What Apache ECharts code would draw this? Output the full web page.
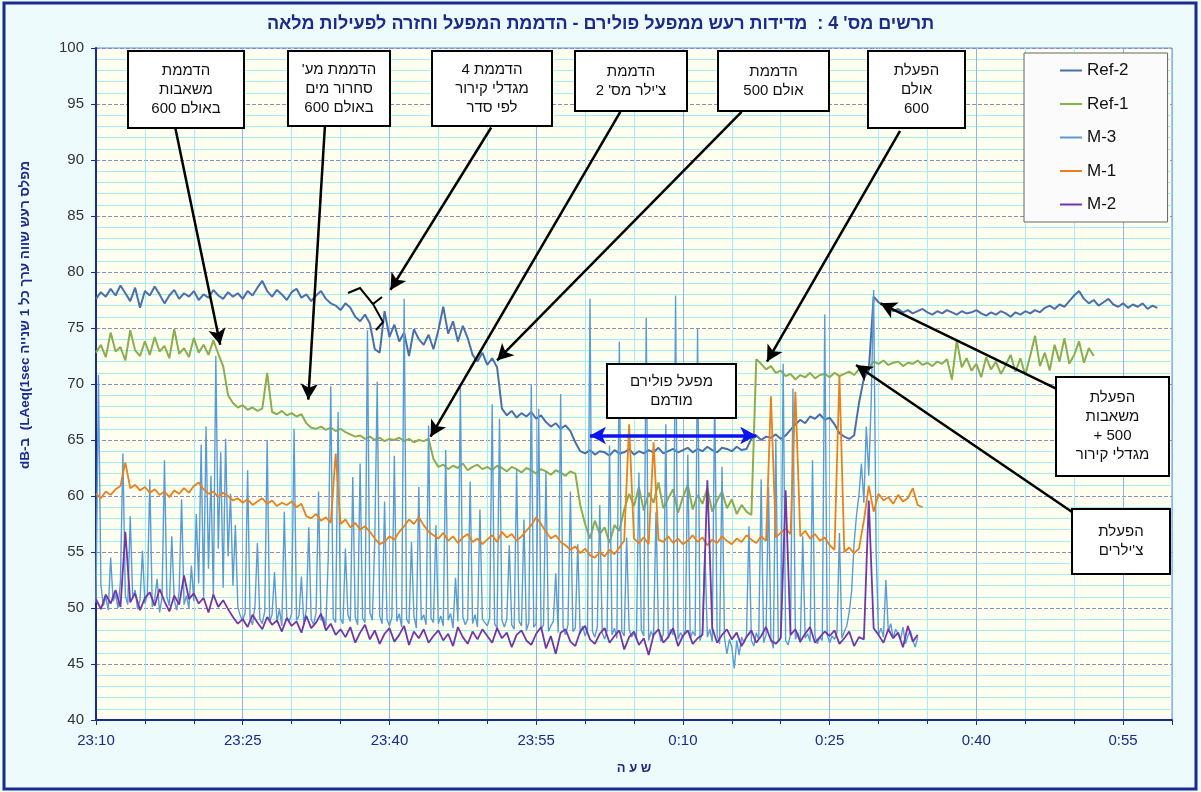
<!DOCTYPE html>
<html>
<head>
<meta charset="utf-8">
<script src="https://cdn.jsdelivr.net/npm/echarts/dist/echarts.min.js"></script>
<style>
  html, body { margin: 0; padding: 0; background: #eefbfc; }
  #chart { width: 1201px; height: 792px; }
</style>
</head>
<body>
<div id="chart"></div>
<script>
// minutes from 23:10, one value every half minute (M-3 every quarter minute)
const ref2 = [
  77.6,78.2,77.8,78.5,77.9,78.8,78.1,77.4,78.6,76.8,
  78.3,77.9,78.7,78.0,77.2,77.9,78.4,77.6,78.1,77.8,
  78.3,77.5,78.0,77.7,78.4,77.9,77.6,78.2,77.8,78.1,
  77.6,78.3,77.9,78.6,79.2,78.3,77.8,78.4,78.0,77.5,
  78.2,78.5,77.7,78.0,77.4,77.9,78.3,77.6,77.2,77.0,
  76.6,77.2,76.8,76.0,75.6,76.2,75.4,73.1,72.8,76.5,
  74.2,75.3,73.8,74.6,72.5,74.9,74.0,73.5,74.4,73.1,
  74.8,76.9,74.5,75.6,73.8,75.2,74.1,72.6,72.0,72.8,
  71.7,72.3,71.5,67.8,67.2,67.6,67.0,67.4,67.1,67.5,
  66.9,67.2,66.6,66.2,66.5,66.0,66.3,65.8,64.8,64.0,
  63.8,64.1,63.7,64.0,63.9,63.6,64.1,63.8,63.9,64.2,
  63.7,64.0,63.8,64.1,63.9,64.3,63.8,64.0,64.2,63.9,
  64.1,64.3,63.9,64.2,64.0,64.4,64.1,63.9,64.3,64.2,
  64.0,64.4,64.1,64.2,65.1,65.4,65.0,65.3,65.2,65.5,
  65.1,65.4,65.9,66.4,66.8,66.5,67.1,66.9,67.3,66.8,
  67.0,66.4,65.6,65.3,65.1,65.4,68.3,70.5,71.2,77.8,
  77.3,77.0,76.8,76.5,76.7,76.4,76.6,76.3,76.5,76.7,
  76.4,76.2,76.5,76.3,76.6,76.4,76.2,76.5,76.3,76.4,
  76.6,76.3,76.1,76.4,76.2,76.5,76.3,76.0,76.4,76.2,
  76.5,76.3,76.6,76.4,76.8,77.0,76.7,77.1,76.9,77.4,
  77.9,78.3,77.6,77.2,77.5,77.0,77.3,77.6,77.1,76.9,
  77.2,76.8,77.1,76.9,77.2,76.7,77.0,76.8
]
const ref1 = [
  72.8,73.5,72.4,74.6,72.9,73.3,72.1,74.8,73.0,72.5,
  73.8,72.6,74.2,72.9,73.4,72.3,74.9,72.7,73.2,72.4,
  74.1,72.8,73.5,72.6,73.9,72.7,71.6,69.0,68.3,67.9,
  68.1,67.7,67.9,67.6,67.8,71.0,67.5,67.3,67.6,67.2,
  67.4,67.1,67.3,66.5,66.1,66.0,66.2,65.9,66.1,65.8,
  66.0,65.7,65.5,65.3,65.4,65.1,65.3,65.0,65.2,64.9,
  65.1,65.0,65.2,64.9,65.1,64.8,65.0,64.9,65.1,63.3,
  62.6,62.8,62.4,62.7,62.5,62.9,62.3,62.6,62.8,62.4,
  62.6,62.3,62.7,62.5,62.2,62.6,62.4,62.1,62.5,62.3,
  62.0,62.4,62.2,61.9,62.3,62.1,61.8,62.2,62.0,59.2,
  57.5,56.2,57.8,56.6,57.2,55.8,57.4,56.9,58.8,60.2,
  59.1,60.8,58.7,60.3,59.4,61.2,58.9,59.8,60.6,58.5,
  59.9,61.0,58.8,60.1,59.3,60.7,58.6,59.6,60.4,58.9,
  59.7,58.4,59.2,58.6,58.3,72.2,71.8,71.3,71.6,71.0,
  71.2,70.7,70.9,70.4,70.8,70.6,71.0,70.5,70.8,70.9,
  70.6,71.0,70.7,70.9,71.1,70.8,71.3,71.0,71.5,72.0,
  71.8,72.1,71.7,71.9,72.0,71.6,71.9,71.8,72.1,71.7,
  71.9,71.6,72.0,71.8,72.2,70.4,73.9,71.5,72.3,71.2,
  71.8,70.6,72.4,71.3,72.0,70.9,71.7,72.6,71.1,72.3,
  70.8,72.5,74.3,71.6,72.8,71.2,73.5,72.0,74.1,71.8,
  72.6,73.8,71.9,73.2,72.5
]
const m3 = [
  50.5,70.8,52.1,50.2,51.0,49.8,54.5,50.6,51.2,50.0,52.4,63.8,51.1,50.3,58.2,50.9,51.6,49.9,50.7,55.1,
  50.4,51.2,61.5,50.1,50.8,52.6,49.6,50.9,63.2,51.0,50.2,56.4,50.7,49.8,51.5,59.7,50.3,51.1,50.0,53.8,
  50.6,58.4,52.2,64.6,51.0,66.2,53.5,61.8,50.9,72.5,55.3,63.9,51.8,65.1,54.6,60.2,52.0,57.4,50.1,49.3,
  48.9,49.6,62.3,49.1,48.5,50.2,55.8,49.0,48.6,49.7,64.9,48.8,49.4,53.2,48.7,49.9,48.4,58.6,49.2,48.8,
  49.5,66.0,48.9,49.3,52.8,48.6,49.8,57.2,49.0,48.5,49.6,60.4,48.9,49.2,48.4,54.7,69.8,49.1,48.7,67.5,
  49.0,48.6,55.3,49.4,48.8,61.7,49.2,48.5,62.9,49.1,48.7,74.8,49.6,48.9,56.1,70.2,49.3,48.6,59.5,49.0,
  48.4,49.2,63.6,48.8,49.5,48.3,77.6,49.0,48.6,55.9,49.3,48.2,60.8,48.9,49.4,48.5,66.3,49.1,48.7,57.4,
  48.6,49.3,48.4,64.1,48.9,49.5,48.2,52.7,48.8,69.7,49.2,48.5,49.0,61.3,48.6,49.4,48.3,58.8,49.0,48.7,
  48.4,49.1,68.2,48.6,48.2,66.9,48.9,48.3,49.0,55.6,48.5,48.1,62.4,48.8,48.4,57.9,48.0,48.7,69.9,48.3,
  48.6,67.8,48.1,48.5,62.2,47.9,48.4,48.8,53.1,47.8,69.1,48.3,47.6,48.5,60.4,47.9,48.2,55.7,47.7,48.4,
  47.5,48.1,77.6,47.9,47.4,48.3,59.2,47.8,47.2,48.0,64.5,47.6,48.2,47.3,73.8,47.9,47.5,56.3,48.1,47.4,
  47.8,47.2,62.1,48.0,47.5,75.9,47.1,47.9,47.4,58.6,48.2,47.0,47.7,66.4,47.3,48.1,47.6,77.9,47.2,47.8,
  47.4,48.0,63.7,47.3,47.9,47.5,74.9,47.1,47.8,55.2,47.4,48.1,47.0,69.6,47.6,46.8,62.6,47.3,45.9,47.2,
  46.5,44.6,47.1,45.8,47.4,46.9,47.5,57.3,47.1,46.6,47.8,47.2,61.5,46.9,47.6,60.8,47.3,46.4,65.1,47.0,
  47.4,71.8,47.1,46.7,47.6,69.6,47.2,47.8,46.9,56.4,47.3,47.7,47.0,63.2,47.5,46.8,47.4,47.1,76.2,47.6,
  46.9,47.5,47.2,47.8,56.7,47.3,47.9,48.4,49.6,51.5,55.8,58.3,60.1,62.9,59.4,66.2,61.8,68.5,78.4,55.2,
  47.6,48.2,47.4,52.5,47.9,48.6,47.3,48.1,47.7,47.2,48.3,46.8,47.5,48.0,47.1,46.5,47.4
]
const m1 = [
  60.2,59.8,60.4,60.1,60.6,60.9,63.0,60.7,61.0,60.5,
  60.8,60.3,60.6,60.1,60.4,59.9,60.5,60.2,60.7,60.3,
  60.9,61.2,60.6,60.2,60.4,59.9,60.3,60.0,59.6,59.8,
  59.4,59.7,59.2,59.5,59.8,59.3,59.6,59.1,59.4,59.2,
  59.5,59.0,59.3,58.2,58.0,58.4,57.8,58.1,57.6,63.8,
  57.5,57.9,57.2,57.6,57.0,57.3,56.8,56.2,55.7,55.9,
  56.4,56.1,56.8,57.3,57.9,57.5,58.1,57.4,56.8,56.5,
  56.2,56.7,56.0,56.4,55.8,56.3,56.6,55.9,56.2,55.7,
  56.1,56.5,55.9,56.8,56.3,56.6,56.0,56.4,56.9,57.4,
  58.1,57.5,56.8,56.2,56.5,55.9,55.6,55.2,55.5,54.9,
  55.3,54.7,54.5,55.0,54.6,55.2,54.8,55.4,56.0,66.4,
  56.2,55.8,56.3,55.7,64.8,56.1,55.9,56.4,55.8,56.2,
  55.7,56.0,56.5,55.9,56.3,55.6,56.1,55.8,56.4,56.0,
  55.7,56.2,55.9,56.5,56.1,55.8,56.4,56.0,68.9,56.3,
  56.7,57.1,56.6,69.3,56.4,56.9,56.2,56.6,56.0,56.3,
  55.6,55.2,70.8,55.0,55.4,54.9,55.3,57.8,60.9,58.6,
  60.2,59.6,59.9,59.3,60.1,59.5,59.8,60.7,59.2,59.0
]
const m2 = [
  50.8,49.9,51.2,50.4,51.6,50.1,56.8,50.5,51.3,49.8,
  50.9,51.4,50.2,51.7,50.6,49.7,51.1,50.3,52.9,50.8,
  51.3,50.4,50.9,49.6,51.2,50.1,50.7,49.9,49.2,48.6,
  49.0,48.3,49.4,48.7,48.1,49.2,48.5,48.9,47.9,49.1,
  48.4,48.8,47.8,49.3,48.2,48.7,49.5,48.0,48.6,47.6,
  48.1,47.4,48.3,46.9,47.8,48.5,47.2,48.0,46.8,47.7,
  48.2,47.0,47.6,48.4,46.7,47.9,47.3,48.1,46.9,47.5,
  48.0,47.1,47.7,46.6,48.3,47.4,46.8,47.9,47.2,48.1,
  47.5,46.9,48.2,47.3,47.8,46.5,47.6,48.0,47.1,46.7,
  47.7,48.3,46.4,47.5,45.9,47.8,48.1,47.0,46.6,47.9,
  48.4,47.2,46.8,47.7,48.2,46.9,47.5,48.0,46.3,47.4,
  47.9,46.7,47.3,45.8,47.6,48.1,46.9,47.4,48.2,46.6,
  47.5,48.0,46.8,47.3,47.6,61.4,48.2,46.9,47.6,48.1,
  47.2,47.8,46.6,47.4,48.0,46.9,47.5,48.3,47.1,46.8,
  47.3,60.5,47.6,48.1,47.0,47.7,48.3,46.9,47.4,47.9,
  47.5,48.0,46.8,47.3,47.9,46.6,47.4,47.2,59.6,48.2,
  47.6,46.9,48.1,47.3,47.8,46.5,48.4,47.0,47.6
]
const seriesNames = ['Ref-2', 'Ref-1', 'M-3', 'M-1', 'M-2']
const seriesColors = ['#4a6fae', '#8bad4f', '#5b9bd5', '#e8801f', '#7435a8']
const lineWidths = [2, 2, 1.4, 1.8, 1.8]
const yTicks = { min: 40, max: 100, step: 5 }

// callout arrows in chart units [minutes, dB]
const arrows = [
  [[8.1, 92.9], [12.7, 73.5]],
  [[23.4, 93.0], [21.7, 68.6]],
  [[40.4, 92.9], [30.1, 78.4]],
  [[53.6, 94.3], [34.2, 65.3]],
  [[66.0, 94.3], [41.0, 72.1]],
  [[82.2, 92.6], [68.6, 72.0]],
  [[98.1, 69.6], [80.2, 77.2]],
  [[99.9, 58.5], [77.7, 71.7]]
]
const spanArrow = [[50.5, 65.4], [67.5, 65.4]]

const boxes = [
  { x: 128, y: 51, w: 116, h: 77, text: 'הדממת\nמשאבות\nבאולם 600' },
  { x: 288, y: 51, w: 102, h: 75, text: "הדממת מע'\u200F\nסחרור מים\nבאולם 600" },
  { x: 432, y: 51, w: 120, h: 75, text: 'הדממת 4\nמגדלי קירור\nלפי סדר' },
  { x: 575, y: 51, w: 112, h: 60, text: "הדממת\nצ'ילר מס' 2" },
  { x: 718, y: 51, w: 111, h: 60, text: 'הדממת\nאולם 500' },
  { x: 868, y: 51, w: 97, h: 77, text: 'הפעלת\nאולם\n600' },
  { x: 607, y: 364, w: 129, h: 54, text: 'מפעל פולירם\nמודמם' },
  { x: 1056, y: 377, w: 113, h: 99, text: 'הפעלת\nמשאבות\n+ 500\nמגדלי קירור' },
  { x: 1072, y: 509, w: 98, h: 65, text: "הפעלת\nצ'ילרים" }
]

function toPoints(vals, dt) {
  return vals.map((v, i) => [i * dt, v])
}
function clock(t) {
  const total = 23 * 60 + 10 + Math.round(t)
  const h = Math.floor(total / 60) % 24
  const m = total % 60
  return h + ':' + (m < 10 ? '0' + m : m)
}

const seriesData = [toPoints(ref2, 0.5), toPoints(ref1, 0.5), toPoints(m3, 0.25), toPoints(m1, 0.5), toPoints(m2, 0.5)]

let chart = echarts.init(document.getElementById('chart'))

let graphics = [
  {
    type: 'rect',
    z: 0,
    shape: { x: 4, y: 3, width: 1192, height: 786 },
    style: { fill: 'none', stroke: '#1b2a8f', lineWidth: 3 }
  },
  // bracket near the cooling towers
  {
    type: 'polyline',
    z: 100,
    shape: { points: [[348, 293], [360, 288], [373, 304], [383, 322], [376, 330]] },
    style: { stroke: '#000', lineWidth: 2, fill: null }
  },
  {
    type: 'line',
    z: 100,
    shape: { x1: 373, y1: 304, x2: 382, y2: 297 },
    style: { stroke: '#000', lineWidth: 2 }
  }
]
boxes.forEach(b => {
  graphics.push({
    type: 'rect',
    z: 100,
    shape: { x: b.x, y: b.y, width: b.w, height: b.h },
    style: { fill: '#ffffff', stroke: '#000000', lineWidth: 2 }
  })
  graphics.push({
    type: 'text',
    z: 101,
    x: b.x + b.w / 2,
    y: b.y + b.h / 2,
    style: {
      text: b.text,
      fill: '#111',
      font: '15px "Liberation Sans", Arial, sans-serif',
      lineHeight: 19,
      align: 'center',
      verticalAlign: 'middle'
    }
  })
})

chart.setOption({
  animation: false,
  backgroundColor: '#eefbfc',
  title: {
    text: "תרשים מס' 4 :  מדידות רעש ממפעל פולירם - הדממת המפעל וחזרה לפעילות מלאה",
    left: 'center',
    top: 10,
    textStyle: {
      color: '#1c2a8c',
      fontSize: 18,
      fontWeight: 'bold',
      fontFamily: 'Liberation Sans, Arial, sans-serif'
    }
  },
  legend: {
    data: seriesNames,
    orient: 'vertical',
    left: 1024,
    top: 53,
    padding: [9, 39, 9, 36],
    itemGap: 16.5,
    itemWidth: 22,
    itemHeight: 2,
    icon: 'rect',
    backgroundColor: '#fbfbfb',
    borderColor: '#666',
    borderWidth: 1,
    textStyle: { fontSize: 17, color: '#111', fontFamily: 'Liberation Sans, Arial, sans-serif' }
  },
  grid: {
    left: 96,
    right: 29,
    top: 48,
    bottom: 72,
    show: true,
    backgroundColor: '#fffff0',
    borderColor: '#5a8ee0',
    borderWidth: 1
  },
  xAxis: {
    type: 'value',
    min: 0,
    max: 110,
    interval: 15,
    name: 'ש ע ה',
    nameLocation: 'middle',
    nameGap: 42,
    nameTextStyle: { color: '#1c2a8c', fontWeight: 'bold', fontSize: 13 },
    axisLine: { lineStyle: { color: '#1b2a8f', width: 2 } },
    axisTick: { length: 5, lineStyle: { color: '#1b2a8f' } },
    minorTick: { show: true, splitNumber: 3, length: 4, lineStyle: { color: '#1b2a8f' } },
    axisLabel: {
      color: '#1c2a8c',
      fontSize: 15,
      fontFamily: 'Liberation Sans Narrow, Arial Narrow, sans-serif',
      margin: 13,
      formatter: v => (v % 15 === 0 ? clock(v) : '')
    },
    splitLine: { show: true, lineStyle: { color: '#8fb3ea' } },
    minorSplitLine: { show: true, lineStyle: { color: '#9ff0f2' } }
  },
  yAxis: {
    type: 'value',
    min: yTicks.min,
    max: yTicks.max,
    interval: yTicks.step,
    name: 'dB-ב  (LAeq(1sec מפלס רעש שווה ערך כל 1 שנייה',
    nameLocation: 'middle',
    nameRotate: 90,
    nameGap: 64,
    nameTextStyle: { color: '#1c2a8c', fontWeight: 'bold', fontSize: 13.5, padding: [0, 0, 0, 138] },
    axisLine: { show: true, lineStyle: { color: '#1b2a8f', width: 2 } },
    axisTick: { show: true, length: 5, lineStyle: { color: '#1b2a8f' } },
    minorTick: { show: false, splitNumber: 5 },
    axisLabel: { color: '#333', fontSize: 15, margin: 12, fontFamily: 'Liberation Sans, Arial, sans-serif' },
    splitLine: { show: true, lineStyle: { color: '#8a8cc4', type: 'dashed' } },
    minorSplitLine: { show: true, lineStyle: { color: '#9ff0f2' } }
  },
  graphic: graphics,
  series: seriesNames.map((name, i) => ({
    name: name,
    type: 'line',
    data: seriesData[i],
    showSymbol: false,
    symbol: 'none',
    color: seriesColors[i],
    lineStyle: { width: lineWidths[i], color: seriesColors[i] },
    emphasis: { disabled: true }
  })).concat([{
    name: 'arrows',
    type: 'line',
    data: [],
    silent: true,
    markLine: {
      silent: true,
      animation: false,
      label: { show: false },
      emphasis: { disabled: true },
      data: arrows.map(a => [
        { coord: a[0], symbol: 'none', lineStyle: { color: '#000', width: 2.5, type: 'solid' } },
        { coord: a[1], symbol: 'arrow', symbolSize: [13, 16] }
      ]).concat([[
        { coord: spanArrow[0], symbol: 'arrow', symbolSize: [13, 16], lineStyle: { color: '#0a14f0', width: 3.5, type: 'solid' } },
        { coord: spanArrow[1], symbol: 'arrow', symbolSize: [13, 16] }
      ]])
    }
  }])
})
</script>
</body>
</html>
